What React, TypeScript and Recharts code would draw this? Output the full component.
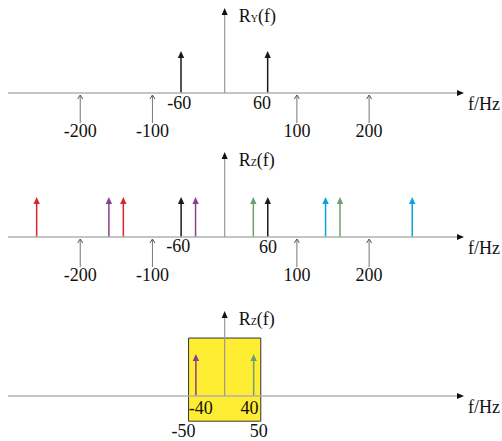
import { ComposedChart, Bar, Cell, XAxis, YAxis, ReferenceLine, ReferenceArea } from 'recharts';

// frequency axis (Hz) and spectra
const F_DOMAIN = [-300, 330];
const Y_DOMAIN = [0, 2];

const TOP_TICKS = [-200, -100, -60, 60, 100, 200];
const TOP_BLACK = [-60, 60];
const TOP_AMP = 1;

const MID_TICKS = [-200, -100, -60, 60, 100, 200];
const MID_RED = [-260, -140];
const MID_PURPLE = [-160, -40];
const MID_BLACK = [-60, 60];
const MID_GREEN = [40, 160];
const MID_BLUE = [140, 260];
const MID_AMP = 0.95;

const BOT_TICKS = [-50, -40, 40, 50];
const BOT_PURPLE = [-40];
const BOT_GREEN = [40];
const BOT_AMP = 1;
const PASS_BAND = [-50, 50];
const BAND_Y = [-0.6, 1.38];

const COLORS: Record<string, string> = {
  red: '#d7262d',
  purple: '#8c3d92',
  black: '#1a1a1a',
  green: '#6e9f70',
  blue: '#0aa3df',
};

const FONT = '"Liberation Serif", "DejaVu Serif", serif';

type Row = { f: number; amp: number; group: string };

const rows = (groups: [string, number[]][], amp: number): Row[] =>
  groups
    .flatMap(([group, fs]) => fs.map((f) => ({ f, amp, group })))
    .sort((a, b) => a.f - b.f);

const topData = rows([['black', TOP_BLACK]], TOP_AMP);
const midData = rows(
  [
    ['red', MID_RED],
    ['purple', MID_PURPLE],
    ['black', MID_BLACK],
    ['green', MID_GREEN],
    ['blue', MID_BLUE],
  ],
  MID_AMP
);
const botData = rows(
  [
    ['purple', BOT_PURPLE],
    ['green', BOT_GREEN],
  ],
  BOT_AMP
);

const Spike = (props: any) => {
  const { x, y, width, height, fill } = props;
  const cx = x + width / 2;
  return (
    <g>
      <line x1={cx} y1={y + height} x2={cx} y2={y + 6} stroke={fill} strokeWidth={1.5} />
      <polygon points={`${cx - 3.2},${y + 7} ${cx + 3.2},${y + 7} ${cx},${y}`} fill={fill} />
    </g>
  );
};

const VAxis = (label: string) => (props: any) => {
  const { x1, y1, y2 } = props;
  const top = Math.min(y1, y2);
  const bot = Math.max(y1, y2);
  return (
    <g>
      <line x1={x1} y1={bot} x2={x1} y2={top + 4} stroke="#9a9a9a" strokeWidth={1.2} />
      <polygon points={`${x1 - 3},${top + 6} ${x1 + 3},${top + 6} ${x1},${top - 1}`} fill="#111" />
      <text x={x1 + 14} y={top + 13} fontFamily={FONT} fontSize={18} fill="#111">
        R<tspan fontSize={10}>{label}</tspan>(f)
      </text>
    </g>
  );
};

const HAxis = (props: any) => {
  const { x1, y1, x2 } = props;
  const left = Math.min(x1, x2);
  const right = Math.max(x1, x2);
  return (
    <g>
      <line x1={left} y1={y1} x2={right - 4} y2={y1} stroke="#b0b0b0" strokeWidth={1.5} />
      <polygon points={`${right - 6},${y1 - 3} ${right - 6},${y1 + 3} ${right + 1},${y1}`} fill="#111" />
      <text x={right + 5} y={y1 + 17} fontFamily={FONT} fontSize={18} fill="#111">
        f/Hz
      </text>
    </g>
  );
};

type TickCfg = { arrows: number[]; far: number[]; near: Record<number, [number, number]> };

const makeTick = (cfg: TickCfg) => (props: any) => {
  const { x, y, payload } = props;
  const v = payload.value;
  const txt = (tx: number, ty: number) => (
    <text x={tx} y={ty} textAnchor="middle" fontFamily={FONT} fontSize={18} fill="#111">
      {v}
    </text>
  );
  if (cfg.arrows.includes(v)) {
    return (
      <g>
        <line x1={x} y1={y + 2} x2={x} y2={y + 30} stroke="#777" strokeWidth={1} />
        <polyline points={`${x - 2.5},${y + 6} ${x},${y + 2} ${x + 2.5},${y + 6}`} fill="none" stroke="#555" strokeWidth={1} />
        {txt(x, y + 44)}
      </g>
    );
  }
  const [dx, dy] = cfg.near[v] || [0, 0];
  if (cfg.far.includes(v)) {
    return txt(x + dx, y + 41 + dy);
  }
  return txt(x + dx, y + 16 + dy);
};

const topTick = makeTick({ arrows: [-200, -100, 100, 200], far: [], near: { [-60]: [-2, 0], 60: [-6, 0] } });
const midTick = makeTick({ arrows: [-200, -100, 100, 200], far: [], near: { [-60]: [-3, -1], 60: [0, 0] } });
const botTick = makeTick({ arrows: [], far: [-50, 50], near: { [-40]: [5, 2], 40: [-4, 2], [-50]: [-5, 0], 50: [-2, 0] } });

const Panel = ({
  top,
  height,
  data,
  ticks,
  tick,
  label,
  band,
}: {
  top: number;
  height: number;
  data: Row[];
  ticks: number[];
  tick: any;
  label: string;
  band?: boolean;
}) => (
  <div style={{ position: 'absolute', left: 0, top }}>
    <ComposedChart width={502} height={height} data={data} margin={{ top: 10, right: 39, bottom: 0, left: 8 }}>
      <XAxis
        dataKey="f"
        type="number"
        domain={F_DOMAIN}
        allowDataOverflow
        ticks={ticks}
        interval={0}
        axisLine={false}
        tickLine={false}
        tickSize={0}
        tickMargin={0}
        height={height - 94}
        tick={tick}
      />
      <YAxis hide domain={Y_DOMAIN} allowDataOverflow />
      {band && (
        <ReferenceArea
          x1={PASS_BAND[0]}
          x2={PASS_BAND[1]}
          y1={BAND_Y[0]}
          y2={BAND_Y[1]}
          ifOverflow="visible"
          fill="#ffed33"
          fillOpacity={1}
          stroke="#333"
          strokeWidth={1}
        />
      )}
      <ReferenceLine y={0} shape={HAxis} ifOverflow="visible" />
      <ReferenceLine x={0} shape={VAxis(label)} ifOverflow="visible" />
      <Bar dataKey="amp" barSize={2} isAnimationActive={false} shape={Spike}>
        {data.map((r, i) => (
          <Cell key={i} fill={COLORS[r.group]} />
        ))}
      </Bar>
    </ComposedChart>
  </div>
);

export default function App() {
  return (
    <div style={{ position: 'fixed', left: 0, top: 0, width: 502, height: 441, overflow: 'hidden', background: '#fff' }}>
      <Panel top={-1} height={145} data={topData} ticks={TOP_TICKS} tick={topTick} label="Y" />
      <Panel top={143} height={145} data={midData} ticks={MID_TICKS} tick={midTick} label="Z" />
      <Panel top={302} height={139} data={botData} ticks={BOT_TICKS} tick={botTick} label="Z" band />
    </div>
  );
}
